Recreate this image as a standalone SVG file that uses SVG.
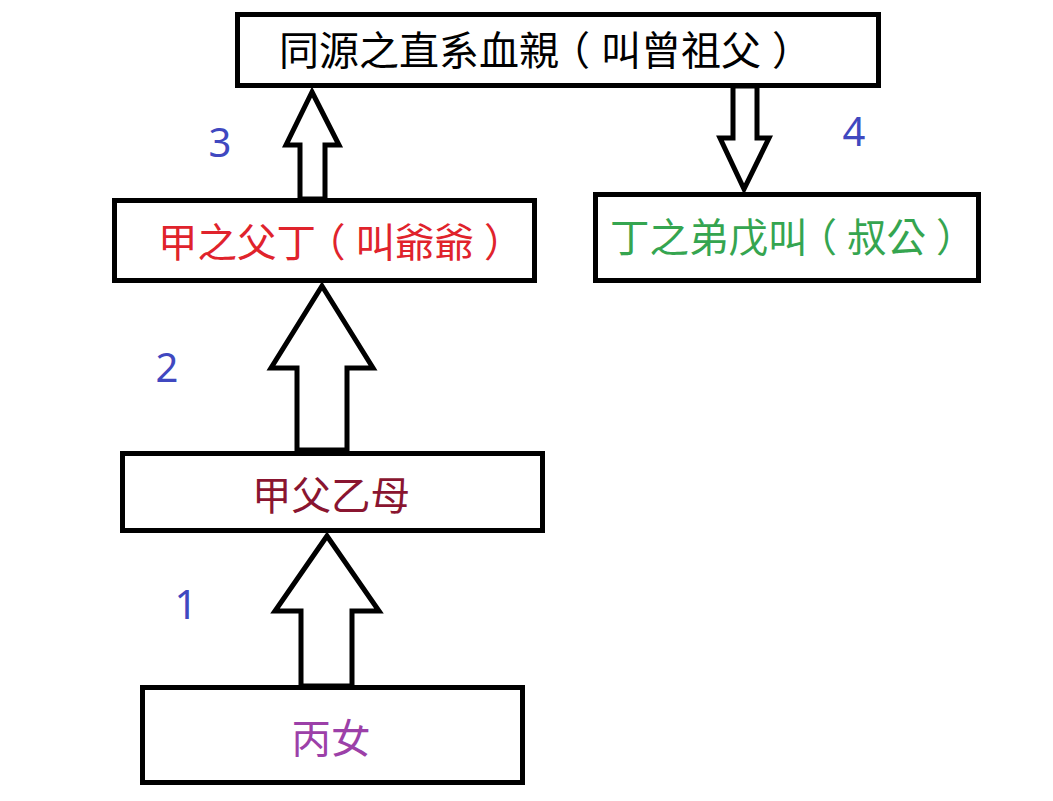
<svg xmlns="http://www.w3.org/2000/svg" width="1053" height="801" viewBox="0 0 1053 801">
<style>
.box{fill:#fff;stroke:#000;stroke-width:5}
.arr{fill:#fff;stroke:#000;stroke-width:5;stroke-linejoin:miter}
.t{font-family:"Noto Sans CJK TC","Noto Sans CJK SC",sans-serif;font-size:39.5px;dominant-baseline:central}
.n{font-family:"Noto Sans","Open Sans",sans-serif;font-size:40px;fill:#4048c0;text-anchor:middle}
</style>
<rect width="1053" height="801" fill="#fff"/>
<g id="connectors">
<polygon class="arr" points="312,92 339,145 325,145 325,199 300,199 300,145 286,145"/>
<polygon class="arr" points="733,86 757,86 757,138 769,138 744,189 720,138 733,138"/>
<polygon class="arr" points="322,286 373,368 347,368 347,450 297,450 297,368 271,368"/>
<polygon class="arr" points="327,536 379,611 352,611 352,686 301,686 301,611 275,611"/>
</g>
<g id="node-top">
<rect class="box" x="237.5" y="14.5" width="641" height="71"/>
<text class="t" x="279" y="48" fill="#000" style="font-size:40px">同源之直系血親<tspan dx="-9">（</tspan><tspan dx="11">叫曾祖父</tspan><tspan dx="11">）</tspan></text>
</g>
<g id="node-grandfather">
<rect class="box" x="114.5" y="200.5" width="420" height="80"/>
<text class="t" x="158" y="239" fill="#e0232c">甲之父丁<tspan dx="-10">（</tspan><tspan dx="10">叫爺爺</tspan><tspan dx="10">）</tspan></text>
</g>
<g id="node-granduncle">
<rect class="box" x="595.5" y="194.5" width="383" height="86"/>
<text class="t" x="610" y="234" fill="#35a550">丁之弟戊叫<tspan dx="-10">（</tspan><tspan dx="10">叔公</tspan><tspan dx="10">）</tspan></text>
</g>
<g id="node-parents">
<rect class="box" x="122.5" y="453.5" width="420" height="77"/>
<text class="t" x="331" y="492" fill="#8a1530" text-anchor="middle">甲父乙母</text>
</g>
<g id="node-daughter">
<rect class="box" x="142.5" y="687.5" width="380" height="95"/>
<text class="t" x="331" y="735" fill="#9c40a8" text-anchor="middle">丙女</text>
</g>
<g id="labels">
<text class="n" x="220" y="157">3</text>
<text class="n" x="854" y="146">4</text>
<text class="n" x="167" y="382">2</text>
<text class="n" x="186" y="619">1</text>
</g>
</svg>
